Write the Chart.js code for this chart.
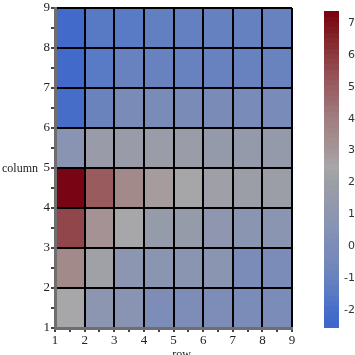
<!DOCTYPE html>
<html>
<head>
<meta charset="utf-8">
<script src="https://cdn.jsdelivr.net/npm/chart.js@4"></script>
<style>
html,body{margin:0;padding:0;background:#fff;}
#wrap{width:355px;height:355px;}
</style>
</head>
<body>
<div id="wrap"><canvas id="c" width="355" height="355"></canvas></div>
<script>
// x axis ("row") cell starts and y axis ("column") cell starts
const rowStarts = [1, 2, 3, 4, 5, 6, 7, 8];
const colStarts = [1, 2, 3, 4, 5, 6, 7, 8];
// values[j][i]: j = column index (y from 1 upward), i = row index (x)
const values = [
  [2.5, 1.0, 0.8, 0.05, 0.05, 0.05, 0.0, 0.0],
  [3.6, 2.2, 1.0, 0.9, 0.9, 0.85, 0.0, 0.0],
  [5.7, 3.2, 2.5, 1.6, 1.6, 1.1, 0.9, 0.9],
  [7.3, 5.1, 3.6, 2.8, 2.45, 2.15, 1.95, 1.95],
  [0.8, 1.8, 1.8, 1.85, 1.85, 1.5, 1.5, 1.5],
  [-2.0, -0.85, -0.15, -0.15, -0.15, -0.15, -0.2, -0.2],
  [-2.3, -1.45, -0.95, -0.95, -0.95, -0.95, -0.95, -0.9],
  [-2.3, -1.5, -1.45, -1.15, -1.05, -1.0, -1.0, -0.95]
];
const xTicks = [1, 2, 3, 4, 5, 6, 7, 8, 9];
const yTicks = [1, 2, 3, 4, 5, 6, 7, 8, 9];
const cbTicks = [-2, -1, 0, 1, 2, 3, 4, 5, 6, 7];
const cbRange = [-2.53, 7.37];

// colour map stops
const cmapVals = [-2.6, -2, -1.5, -1, -0.5, 0, 0.5, 1, 1.5, 2, 2.5, 3, 3.5, 4, 4.5, 5, 5.5, 6, 6.5, 7, 7.4];
const cmapCols = [
  [60,102,206],[70,109,200],[88,121,196],[102,129,191],[116,137,185],[124,140,184],
  [132,146,180],[140,150,176],[148,154,170],[156,158,166],[167,166,168],[166,150,152],
  [163,139,141],[160,127,128],[155,110,114],[154,94,97],[147,78,82],[140,58,62],
  [132,38,44],[124,16,26],[120,0,16]
];
function cmap(v){
  if (v <= cmapVals[0]) return 'rgb(' + cmapCols[0].join(',') + ')';
  for (let k = 1; k < cmapVals.length; k++) {
    if (v <= cmapVals[k]) {
      const t = (v - cmapVals[k-1]) / (cmapVals[k] - cmapVals[k-1]);
      const a = cmapCols[k-1], b = cmapCols[k];
      return 'rgb(' + [0,1,2].map(i => Math.round(a[i] + (b[i]-a[i])*t)).join(',') + ')';
    }
  }
  return 'rgb(' + cmapCols[cmapCols.length-1].join(',') + ')';
}

const cells = [];
colStarts.forEach((y, j) => rowStarts.forEach((x, i) => cells.push({x: x, y: y, v: values[j][i]})));

const heatPlugin = {
  id: 'heat',
  beforeDraw(chart) {
    const ctx = chart.ctx, xs = chart.scales.x, ys = chart.scales.y, cb = chart.scales.cb;
    ctx.save();
    chart.data.datasets[0].data.forEach(c => {
      const x0 = xs.getPixelForValue(c.x), x1 = xs.getPixelForValue(c.x + 1);
      const y0 = ys.getPixelForValue(c.y + 1), y1 = ys.getPixelForValue(c.y);
      ctx.fillStyle = cmap(c.v);
      ctx.fillRect(x0, y0, x1 - x0, y1 - y0);
    });
    // colour bar
    const n = 60, step = (cbRange[1] - cbRange[0]) / n;
    const bx = cb.left + 32, bw = 15;
    for (let k = 0; k < n; k++) {
      const v0 = cbRange[0] + k * step, v1 = v0 + step;
      const p0 = cb.getPixelForValue(v1), p1 = cb.getPixelForValue(v0);
      ctx.fillStyle = cmap((v0 + v1) / 2);
      ctx.fillRect(bx, Math.floor(p0), bw, Math.ceil(p1) - Math.floor(p0));
    }
    ctx.restore();
  },
  afterDraw(chart) {
    const ctx = chart.ctx, xs = chart.scales.x, ys = chart.scales.y;
    ctx.save();
    ctx.fillStyle = '#222';
    ctx.font = '12px "Liberation Serif", serif';
    ctx.textAlign = 'left';
    ctx.textBaseline = 'alphabetic';
    ctx.fillText('column', 2, ys.getPixelForValue(5) + 4);
    ctx.textAlign = 'center';
    ctx.fillText('row', (xs.left + xs.right) / 2 + 8, 358);
    ctx.restore();
  }
};

const gridColor = ctx => (ctx.tick && Number.isInteger(ctx.tick.value)) ? '#000' : 'rgba(0,0,0,0)';
const tickLabel = (list) => function(v){ return list.includes(v) ? String(v) : ''; };

new Chart(document.getElementById('c'), {
  type: 'scatter',
  data: { datasets: [{ data: cells, pointRadius: 0, pointHoverRadius: 0 }] },
  plugins: [heatPlugin],
  options: {
    responsive: false,
    animation: false,
    events: [],
    layout: { padding: { top: 8, left: 0, right: 0, bottom: 0 } },
    plugins: { legend: { display: false }, tooltip: { enabled: false } },
    scales: {
      x: {
        type: 'linear', min: xTicks[0], max: xTicks[xTicks.length-1],
        ticks: { stepSize: 0.5, autoSkip: false, maxRotation: 0, padding: 1,
                 color: '#222', font: { family: '"Liberation Serif", serif', size: 13 },
                 callback: tickLabel(xTicks) },
        grid: { color: gridColor, lineWidth: 2, tickColor: '#444', tickLength: 4, drawTicks: true },
        border: { color: '#6e6e6e', width: 3 },
        afterFit(s) { s.height = 27; s.paddingLeft = 0; s.paddingRight = 0; }
      },
      y: {
        type: 'linear', min: yTicks[0], max: yTicks[yTicks.length-1],
        ticks: { stepSize: 0.5, autoSkip: false, padding: 1,
                 color: '#222', font: { family: '"Liberation Serif", serif', size: 13 },
                 callback: tickLabel(yTicks) },
        grid: { color: gridColor, lineWidth: 2, tickColor: '#444', tickLength: 4, drawTicks: true },
        border: { color: '#6e6e6e', width: 3 },
        afterFit(s) { s.width = 55; s.paddingTop = 0; s.paddingBottom = 0; }
      },
      cb: {
        type: 'linear', position: 'right', min: -2.56, max: 7.47,
        afterBuildTicks(s) { s.ticks = cbTicks.map(v => ({ value: v })); },
        ticks: { crossAlign: 'far', padding: 42, color: '#333',
                 font: { family: '"DejaVu Sans", sans-serif', size: 11 },
                 callback: v => String(v) },
        grid: { display: false, drawTicks: false },
        border: { display: false },
        afterFit(s) { s.width = 63; s.paddingTop = 0; s.paddingBottom = 0; }
      }
    }
  }
});
</script>
</body>
</html>
